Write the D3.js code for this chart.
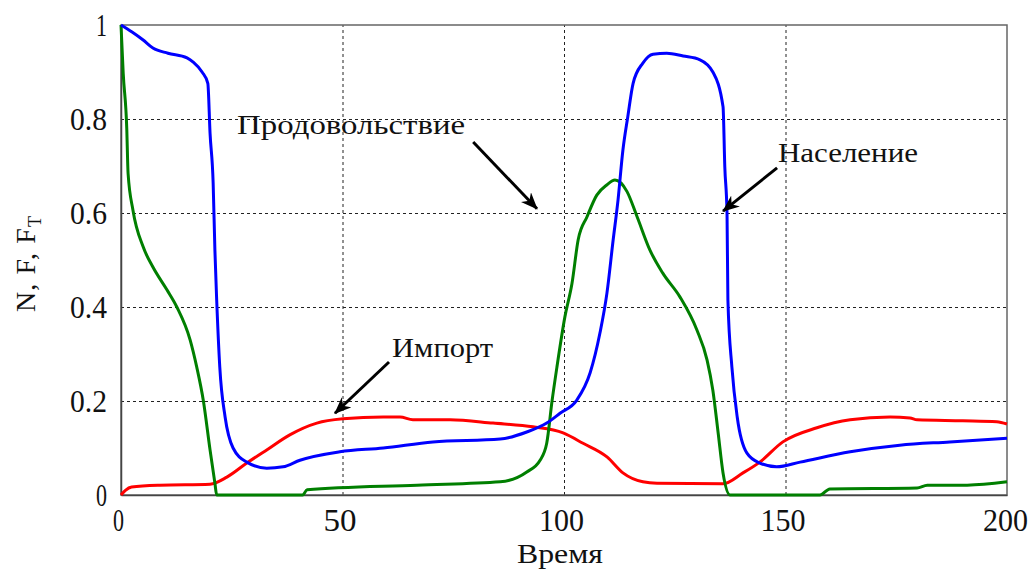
<!DOCTYPE html>
<html>
<head>
<meta charset="utf-8">
<script src="https://cdn.jsdelivr.net/npm/d3@7/dist/d3.min.js"></script>
<style>
  body { margin: 0; background: #fff; }
  text { font-family: "Liberation Serif", "Times New Roman", serif; fill: #111; }
</style>
</head>
<body>
<div id="chart"></div>
<script>
// Население (N)
const popT = [0, 2.5, 5, 7.2, 10.6, 14.9, 16.3, 18.3, 19.6, 20.1, 20.8, 21.2, 21.6, 22.3, 23.5, 25.3, 28.4, 32.9, 36.6, 40.4, 49.4, 59.2, 70.4, 85.6, 91.6, 96.1, 99.1, 102.9, 105.9, 108.1, 109.7, 111.1, 112.2, 113.3, 114.4, 115.6, 117.8, 120.1, 123.2, 126.9, 130.7, 133.6, 135.9, 136.3, 136.8, 137.0, 137.9, 139.1, 141.3, 144.2, 148, 153.3, 164.6, 175.8, 187.1, 200]
const popN = [1.0, 0.985, 0.968, 0.951, 0.94, 0.93, 0.921, 0.9, 0.876, 0.77, 0.664, 0.52, 0.415, 0.272, 0.166, 0.1, 0.07, 0.057, 0.06, 0.074, 0.092, 0.1, 0.113, 0.119, 0.134, 0.153, 0.174, 0.202, 0.26, 0.344, 0.43, 0.543, 0.628, 0.734, 0.805, 0.876, 0.919, 0.938, 0.94, 0.934, 0.926, 0.9, 0.826, 0.698, 0.6, 0.415, 0.272, 0.166, 0.089, 0.068, 0.06, 0.07, 0.092, 0.106, 0.113, 0.121]

// Продовольствие (F)
const foodT = [0, 0.5, 1.3, 1.6, 2.7, 5, 7.2, 10.4, 12.6, 15.6, 17.1, 18.6, 20.1, 21.2, 21.6, 41, 42, 66.8, 85.6, 91.6, 94.6, 96.1, 97.3, 98.4, 100.2, 101.8, 103.2, 105.2, 107.4, 109.7, 111.5, 114.2, 116.5, 119.4, 122.3, 126.2, 130, 132.3, 133.6, 134.8, 135.9, 137.5, 157.8, 160, 179.7, 182, 191, 200]
const foodF = [1.0, 0.897, 0.78, 0.684, 0.606, 0.528, 0.485, 0.436, 0.4, 0.33, 0.272, 0.2, 0.096, 0.025, 0.0, 0.0, 0.011, 0.021, 0.028, 0.049, 0.074, 0.11, 0.2, 0.272, 0.379, 0.45, 0.543, 0.592, 0.638, 0.66, 0.67, 0.646, 0.592, 0.521, 0.472, 0.421, 0.351, 0.287, 0.223, 0.132, 0.047, 0.0, 0.0, 0.013, 0.015, 0.021, 0.021, 0.028]

// Импорт (F_T)
const impT = [0, 1, 2.4, 8.8, 20.1, 23.9, 28.4, 32.9, 38.1, 44.2, 50.1, 59.2, 63, 65.9, 74.3, 84, 93, 99.8, 104.3, 109.7, 113.3, 117.8, 121, 135.9, 140.4, 144.2, 149.4, 157.1, 164.6, 173.6, 178.1, 179.7, 190, 197.7, 200]
const impF = [0, 0.01, 0.017, 0.021, 0.023, 0.038, 0.068, 0.096, 0.128, 0.153, 0.162, 0.166, 0.166, 0.16, 0.16, 0.153, 0.145, 0.132, 0.11, 0.081, 0.047, 0.028, 0.025, 0.024, 0.047, 0.07, 0.113, 0.143, 0.16, 0.166, 0.164, 0.16, 0.158, 0.156, 0.151]

const xTicks = [0, 50, 100, 150, 200]
const yTicks = [0, 0.2, 0.4, 0.6, 0.8, 1]
const yTickLabels = ['0', '0.2', '0.4', '0.6', '0.8', '1']

// annotations: label, text anchor (t, value), arrow start, arrow end
const noteText = ['Продовольствие', 'Население', 'Импорт']
const noteAt = [[26.2, 0.768], [148.3, 0.709], [61.2, 0.293]]
const noteFrom = [[79.5, 0.751], [148.1, 0.696], [60.5, 0.283]]
const noteTo = [[93.9, 0.609], [135.9, 0.604], [48.3, 0.174]]

const width = 1032, height = 571
const margin = { top: 25, right: 25, bottom: 76, left: 121 }
const w = width - margin.left - margin.right
const h = height - margin.top - margin.bottom

const svg = d3.select('#chart').append('svg')
    .attr('width', width)
    .attr('height', height)

svg.append('defs').append('marker')
    .attr('id', 'head')
    .attr('viewBox', '-16 -7 18 14')
    .attr('refX', 0).attr('refY', 0)
    .attr('markerWidth', 18).attr('markerHeight', 14)
    .attr('markerUnits', 'userSpaceOnUse')
    .attr('orient', 'auto')
    .append('path')
    .attr('d', 'M1,0 L-16,-7 L-11,0 L-16,7 Z')
    .attr('fill', '#000')

const chart = svg.append('g')
    .attr('transform', `translate(${margin.left},${margin.top})`)

const x = d3.scaleLinear().domain([0, 200]).range([0, w])
const y = d3.scaleLinear().domain([0, 1]).range([h, 0])

// grid
chart.append('g')
    .attr('transform', `translate(0,${h})`)
    .call(d3.axisBottom(x).tickValues([50, 100, 150]).tickSize(-h).tickFormat(''))
    .call(g => g.select('.domain').remove())
    .selectAll('line')
    .attr('stroke', '#222').attr('stroke-dasharray', '3,3')

chart.append('g')
    .call(d3.axisLeft(y).tickValues([0.2, 0.4, 0.6, 0.8]).tickSize(-w).tickFormat(''))
    .call(g => g.select('.domain').remove())
    .selectAll('line')
    .attr('stroke', '#222').attr('stroke-dasharray', '3,3')

// frame
chart.append('rect')
    .attr('width', w).attr('height', h)
    .attr('fill', 'none').attr('stroke', '#666').attr('stroke-width', 1.5)

// axes labels
const xLab = chart.append('g')
    .attr('transform', `translate(0,${h})`)
    .call(d3.axisBottom(x).tickValues(xTicks).tickSize(0).tickPadding(13).tickFormat(d3.format('d')))
xLab.select('.domain').attr('stroke', '#444').attr('stroke-width', 1.5)
xLab.selectAll('text')
    .attr('font-family', 'Liberation Serif')
    .style('font-size', '32px')
    .attr('fill', '#111')
    .attr('lengthAdjust', 'spacingAndGlyphs')
    .attr('textLength', d => String(d).length === 1 ? 11 : (String(d).length === 2 ? 33 : 45))
    .attr('dx', d => d === 0 ? -3 : (d === 200 ? -2 : -3))

const yLab = chart.append('g')
    .call(d3.axisLeft(y).tickValues(yTicks).tickSize(0).tickPadding(14)
        .tickFormat((d, i) => yTickLabels[i]))
yLab.select('.domain').attr('stroke', '#444').attr('stroke-width', 1.5)
yLab.selectAll('text')
    .attr('font-family', 'Liberation Serif')
    .style('font-size', '32px')
    .attr('fill', '#111')
    .attr('lengthAdjust', 'spacingAndGlyphs')
    .attr('textLength', (d, i) => yTickLabels[i].length === 1 ? 11 : 37)

svg.append('text')
    .attr('x', margin.left + x(100) - 4)
    .attr('y', 563)
    .attr('text-anchor', 'middle')
    .attr('textLength', 86)
    .attr('lengthAdjust', 'spacingAndGlyphs')
    .style('font-size', '28px')
    .text('Время')

const yTitle = svg.append('text')
    .attr('transform', `translate(35,${312}) rotate(-90)`)
    .attr('textLength', 96)
    .style('font-size', '28px')
yTitle.append('tspan').text('N, F, F')
yTitle.append('tspan').attr('dy', 6).style('font-size', '18px').text('T')

// lines
const line = d3.line().x(d => x(d[0])).y(d => y(d[1])).curve(d3.curveMonotoneX)
const series = [
    { t: impT, v: impF, color: '#ff0000' },
    { t: foodT, v: foodF, color: '#007f00' },
    { t: popT, v: popN, color: '#0000ff' }
]
series.forEach(s => {
    chart.append('path')
        .datum(s.t.map((t, i) => [t, s.v[i]]))
        .attr('fill', 'none')
        .attr('stroke', s.color)
        .attr('stroke-width', 3)
        .attr('stroke-linejoin', 'round')
        .attr('d', line)
})

// annotations
const noteLen = [228, 140, 101]
noteText.forEach((txt, i) => {
    chart.append('text')
        .attr('x', x(noteAt[i][0]))
        .attr('y', y(noteAt[i][1]))
        .attr('textLength', noteLen[i])
        .attr('lengthAdjust', 'spacingAndGlyphs')
        .style('font-size', '28px')
        .text(txt)
    chart.append('line')
        .attr('x1', x(noteFrom[i][0])).attr('y1', y(noteFrom[i][1]))
        .attr('x2', x(noteTo[i][0])).attr('y2', y(noteTo[i][1]))
        .attr('stroke', '#000')
        .attr('stroke-width', 3)
        .attr('marker-end', 'url(#head)')
})
</script>
</body>
</html>
